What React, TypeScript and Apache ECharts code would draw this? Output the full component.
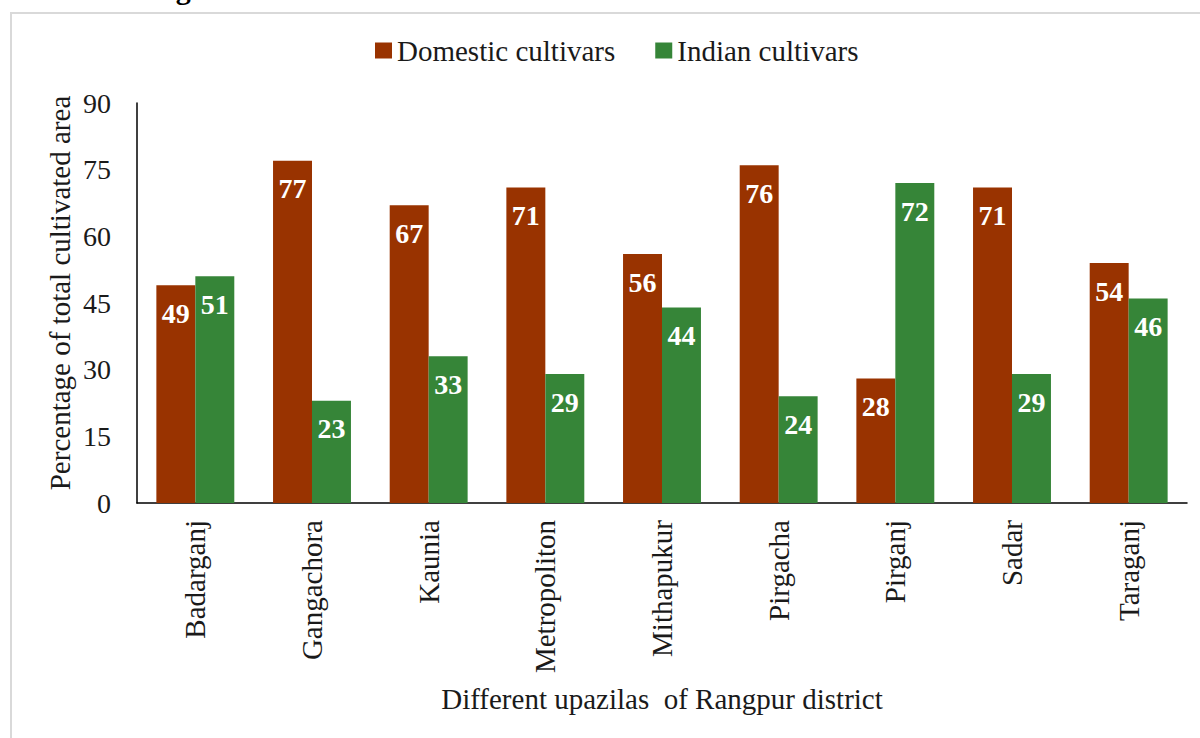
import React, { useEffect, useRef } from "react";
import * as echarts from "echarts";

// Upazilas of Rangpur district and share of cultivated area (%)
const upazilas = [
  "Badarganj",
  "Gangachora",
  "Kaunia",
  "Metropoliton",
  "Mithapukur",
  "Pirgacha",
  "Pirganj",
  "Sadar",
  "Taraganj",
];
const domesticCultivars = [49, 77, 67, 71, 56, 76, 28, 71, 54];
const indianCultivars = [51, 23, 33, 29, 44, 24, 72, 29, 46];
const yTicks = { min: 0, max: 90, interval: 15 };

const FONT = "Liberation Serif";
const RED = "#993300";
const GREEN = "#368538";
const INK = "#1a1a1a";

export default function App() {
  const ref = useRef<HTMLDivElement>(null);

  useEffect(() => {
    if (!ref.current) return;
    const chart = echarts.init(ref.current, null, { renderer: "svg" });

    const barLabel = {
      show: true,
      position: "insideTop",
      distance: 14,
      color: "#ffffff",
      fontFamily: FONT,
      fontWeight: "bold",
      fontSize: 28,
    };

    chart.setOption({
      animation: false,
      backgroundColor: "#ffffff",
      textStyle: { fontFamily: FONT },
      graphic: [
        {
          type: "rect",
          z: 0,
          silent: true,
          shape: { x: 11, y: 13, width: 1400, height: 900 },
          style: { fill: "none", stroke: "#d9d9d9", lineWidth: 2 },
        },
        {
          type: "text",
          z: 0,
          silent: true,
          x: 124,
          y: 3,
          style: {
            text: "Bangladesh.",
            fontFamily: FONT,
            fontWeight: "bold",
            fontSize: 30,
            fill: "#000000",
            verticalAlign: "bottom",
          },
        },
        {
          type: "text",
          silent: true,
          x: 60,
          y: 293,
          rotation: Math.PI / 2,
          style: {
            text: "Percentage of total cultivated area",
            fontFamily: FONT,
            fontSize: 29,
            fill: INK,
            align: "center",
            verticalAlign: "middle",
          },
        },
      ],
      legend: {
        left: 370,
        top: 31,
        icon: "rect",
        itemWidth: 17,
        itemHeight: 16,
        itemGap: 40,
        textStyle: { fontFamily: FONT, fontSize: 29, color: INK },
        data: ["Domestic cultivars", "Indian cultivars"],
      },
      grid: { left: 137, right: 13, top: 103, bottom: 235, containLabel: false },
      xAxis: {
        type: "category",
        data: upazilas,
        name: "Different upazilas  of Rangpur district",
        nameLocation: "middle",
        nameGap: 181,
        nameTextStyle: { fontFamily: FONT, fontSize: 29, color: INK },
        axisLine: { lineStyle: { color: "#000000", width: 1.5 } },
        axisTick: { show: false },
        axisLabel: {
          rotate: 90,
          margin: 17,
          fontFamily: FONT,
          fontSize: 29,
          color: INK,
          interval: 0,
        },
      },
      yAxis: {
        type: "value",
        min: yTicks.min,
        max: yTicks.max,
        interval: yTicks.interval,
        axisLine: { show: true, lineStyle: { color: "#000000", width: 1.5 } },
        axisTick: { show: false },
        splitLine: { show: false },
        axisLabel: {
          margin: 26,
          fontFamily: FONT,
          fontSize: 28,
          color: INK,
        },
      },
      series: [
        {
          name: "Domestic cultivars",
          type: "bar",
          data: domesticCultivars,
          barWidth: "33.4%",
          barGap: "0%",
          itemStyle: { color: RED },
          label: barLabel,
        },
        {
          name: "Indian cultivars",
          type: "bar",
          data: indianCultivars,
          barWidth: "33.4%",
          barGap: "0%",
          itemStyle: { color: GREEN },
          label: barLabel,
        },
      ],
    });

    return () => chart.dispose();
  }, []);

  return (
    <div
      ref={ref}
      style={{ position: "absolute", left: 0, top: 0, width: 1200, height: 738 }}
    />
  );
}
